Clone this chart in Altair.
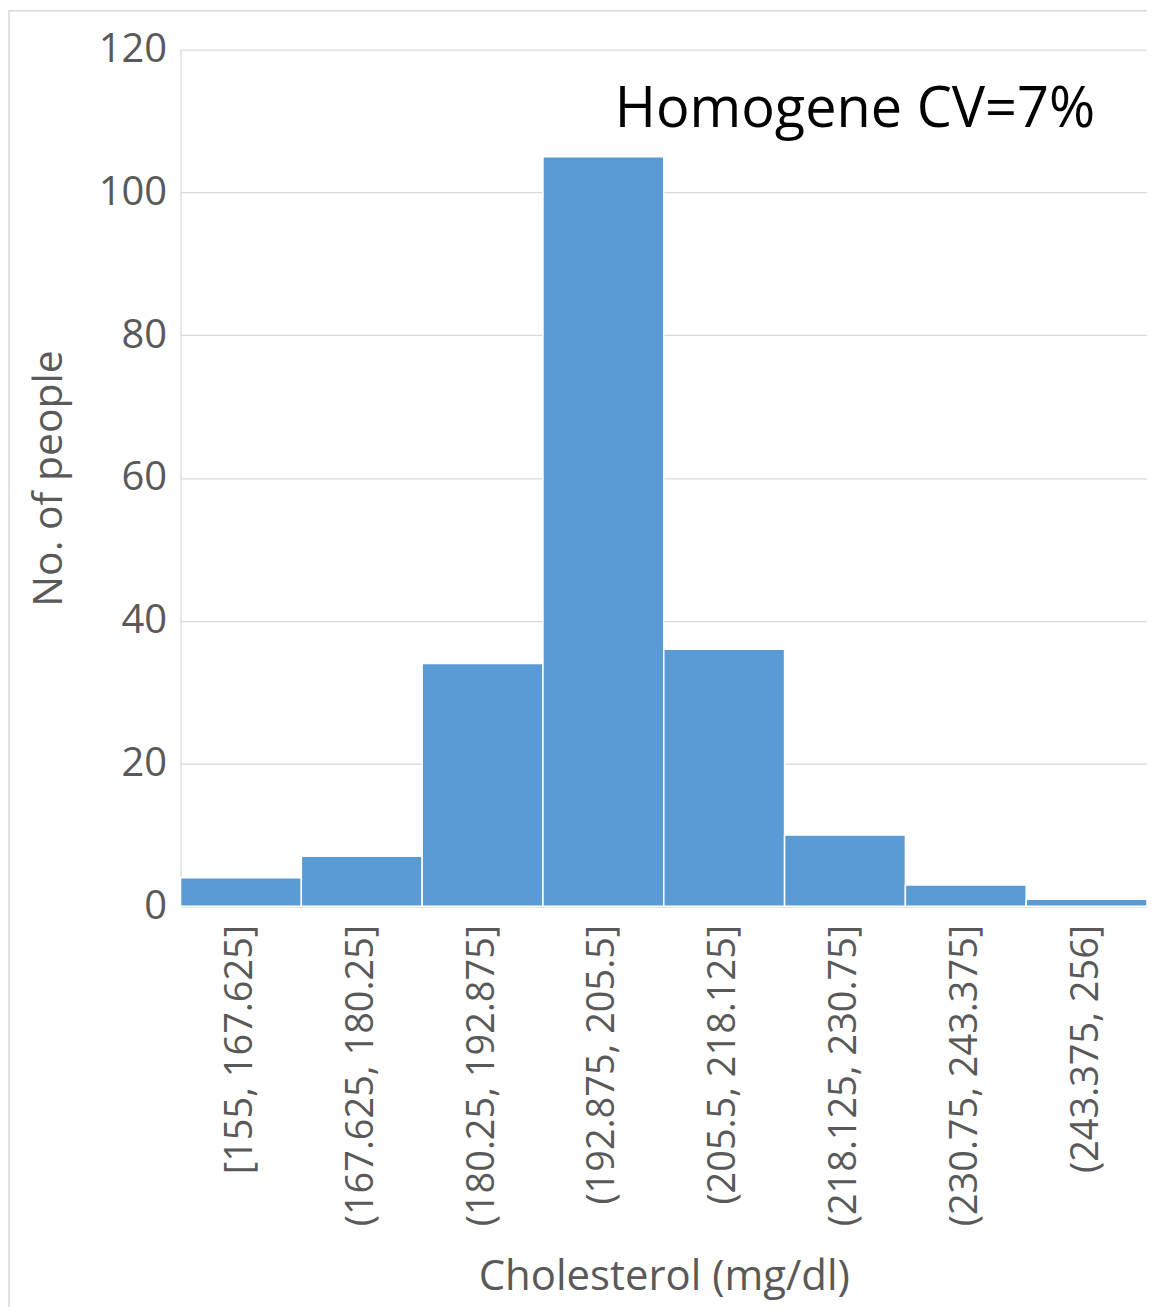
import altair as alt
import pandas as pd

bins = ["[155, 167.625]", "(167.625, 180.25]", "(180.25, 192.875]", "(192.875, 205.5]",
        "(205.5, 218.125]", "(218.125, 230.75]", "(230.75, 243.375]", "(243.375, 256]"]
counts = [4, 7, 34, 105, 36, 10, 3, 1]
y_ticks = [0, 20, 40, 60, 80, 100, 120]
annotation = "Homogene CV=7%"
x_title = "Cholesterol (mg/dl)"
y_title = "No. of people"

df = pd.DataFrame({"bin": bins, "count": counts})

FONT = "Open Sans"
AXIS_COLOR = "#595959"
GRID = "#d9d9d9"

bars = alt.Chart(df).mark_bar(color="#5B9BD5", stroke="white", strokeWidth=1.5).encode(
    x=alt.X("bin:N", sort=bins,
            scale=alt.Scale(paddingInner=0, paddingOuter=0),
            axis=alt.Axis(title=x_title, labelAngle=-90, ticks=False, grid=False,
                          domainColor=GRID, domainWidth=1.5,
                          labelFont=FONT, labelFontSize=38, labelColor=AXIS_COLOR,
                          labelPadding=18, labelLimit=0,
                          titleFont=FONT, titleFontSize=42, titleColor=AXIS_COLOR,
                          titleFontWeight="normal", titleBaseline="middle",
                          titleY=371)),
    y=alt.Y("count:Q", scale=alt.Scale(domain=[0, 120]),
            axis=alt.Axis(title=y_title, values=y_ticks, ticks=False, grid=True,
                          gridColor=GRID, gridWidth=1.3,
                          domainColor=GRID, domainWidth=1.3,
                          labelFont=FONT, labelFontSize=40, labelColor=AXIS_COLOR,
                          labelPadding=14,
                          titleFont=FONT, titleFontSize=41, titleColor=AXIS_COLOR,
                          titleFontWeight="normal", titlePadding=28)),
)

text = alt.Chart(pd.DataFrame({"t": [annotation]})).mark_text(
    align="right", baseline="alphabetic", fontSize=56, font=FONT, color="black"
).encode(x=alt.value(917), y=alt.value(78), text="t:N")

frame = alt.Chart(pd.DataFrame({"a": [0]})).mark_rect(
    fillOpacity=0, stroke=GRID, strokeWidth=1.5, clip=False
).encode(x=alt.value(-172), x2=alt.value(1000), y=alt.value(-39), y2=alt.value(1300))

chart = alt.layer(frame, bars, text).properties(
    width=969, height=859,
    padding={"left": 173, "top": 40, "right": 0, "bottom": 400},
    autosize=alt.AutoSizeParams(type="none"),
).configure_view(strokeWidth=0)

chart.save("out.html", embed_options={"renderer": "svg", "actions": False})
